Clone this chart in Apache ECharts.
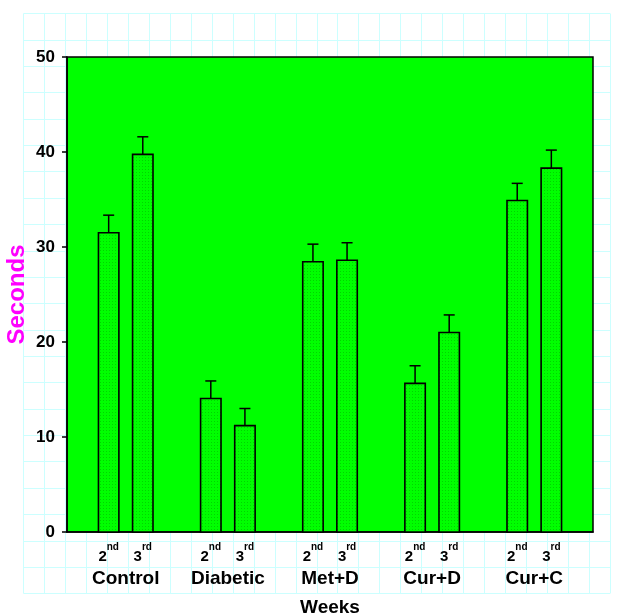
<!DOCTYPE html>
<html>
<head>
<meta charset="utf-8">
<script src="https://cdn.jsdelivr.net/npm/echarts@6/dist/echarts.min.js"></script>
<style>
  html, body { margin: 0; padding: 0; background: #fff; }
  #chart { width: 619px; height: 614px; }
</style>
</head>
<body>
<div id="chart"></div>
<script>
// Groups and weekly means (seconds) with their error bars
const groups = ['Control', 'Diabetic', 'Met+D', 'Cur+D', 'Cur+C'];
const week2 = [31.5, 14.05, 28.45, 15.65, 34.9];
const week2Err = [1.85, 1.85, 1.85, 1.85, 1.8];
const week3 = [39.75, 11.2, 28.6, 21.0, 38.3];
const week3Err = [1.85, 1.8, 1.85, 1.85, 1.9];
const weekNum = ['2', '3'];
const weekSup = ['nd', 'rd'];
const yMin = 0, yMax = 50, yStep = 10;

const FONT = '"Liberation Sans", Arial, sans-serif';
const PAIR_OFFSET = 0.167;   // bar centre offset from group centre (axis units)
const BAR_W = 0.2;           // bar width (axis units)
const CAP_W = 0.108;         // error-bar cap width (axis units)

// dotted fill for the bars
const tile = document.createElement('canvas');
tile.width = 3; tile.height = 3;
const tctx = tile.getContext('2d');
tctx.fillStyle = '#00ff00';
tctx.fillRect(0, 0, 3, 3);
tctx.fillStyle = '#00d400';
tctx.fillRect(1, 1, 1, 1);
const barFill = { image: tile, repeat: 'repeat' };

const barData = [];
groups.forEach((g, i) => {
  barData.push([i - PAIR_OFFSET, week2[i], week2Err[i]]);
  barData.push([i + PAIR_OFFSET, week3[i], week3Err[i]]);
});
const weekPositions = barData.map(d => d[0]);

function renderItem(params, api) {
  const x = api.value(0), v = api.value(1), e = api.value(2);
  const top = api.coord([x, v]);
  const base = api.coord([x, 0]);
  const cap = api.coord([x, v + e]);
  const w = api.size([BAR_W, 0])[0];
  const cw = api.size([CAP_W, 0])[0];
  return {
    type: 'group',
    children: [
      { type: 'line', shape: { x1: top[0], y1: top[1], x2: cap[0], y2: cap[1] },
        style: { stroke: '#000', lineWidth: 1.5 } },
      { type: 'line', shape: { x1: cap[0] - cw / 2, y1: cap[1], x2: cap[0] + cw / 2, y2: cap[1] },
        style: { stroke: '#000', lineWidth: 1.5 } },
      { type: 'rect', shape: { x: top[0] - w / 2, y: top[1], width: w, height: base[1] - top[1] },
        style: { fill: barFill, stroke: '#000', lineWidth: 1.6 } }
    ]
  };
}

const chart = echarts.init(document.getElementById('chart'), null, { renderer: 'canvas' });
chart.setOption({
  animation: false,
  backgroundColor: '#ffffff',
  grid: [
    // graph-paper backdrop
    { left: 23.5, top: 13.5, width: 586.5, height: 580, z: 0, outerBoundsMode: 'none', containLabel: false },
    // plotting area
    { left: 67, top: 57, width: 526, height: 475, z: 3, outerBoundsMode: 'none', containLabel: false,
      show: true, backgroundColor: '#00ff00', borderColor: '#000', borderWidth: 1.5 }
  ],
  xAxis: [
    { gridIndex: 0, type: 'value', min: 0, max: 28, interval: 1, z: 0,
      axisLine: { show: false }, axisTick: { show: false }, axisLabel: { show: false },
      splitLine: { show: true, lineStyle: { color: '#ccffff', width: 1 } } },
    { gridIndex: 1, type: 'value', min: -0.575, max: 4.575, z: 4,
      axisLine: { show: true, onZero: false, lineStyle: { color: '#000', width: 1.5 } },
      axisTick: { show: false },
      splitLine: { show: false },
      axisLabel: {
        show: true, customValues: [0, 1, 2, 3, 4], margin: 37,
        formatter: v => groups[Math.round(v)],
        color: '#000', fontFamily: FONT, fontWeight: 'bold', fontSize: 19
      },
      name: 'Weeks', nameLocation: 'middle', nameGap: 66, nameMoveOverlap: false,
      nameTextStyle: { color: '#000', fontFamily: FONT, fontWeight: 'bold', fontSize: 19 } },
    { gridIndex: 1, type: 'value', min: -0.575, max: 4.575, z: 4, position: 'bottom',
      axisLine: { show: false }, axisTick: { show: false }, splitLine: { show: false },
      axisLabel: {
        show: true, customValues: weekPositions, margin: 10,
        formatter: v => {
          const k = v < Math.round(v) ? 0 : 1;
          return '{b|' + weekNum[k] + '}{s|' + weekSup[k] + '}';
        },
        rich: {
          b: { fontFamily: FONT, fontWeight: 'bold', fontSize: 15, color: '#000', lineHeight: 22, verticalAlign: 'bottom' },
          s: { fontFamily: FONT, fontWeight: 'bold', fontSize: 10, color: '#000', verticalAlign: 'top' }
        }
      } }
  ],
  yAxis: [
    { gridIndex: 0, type: 'value', min: 0, max: 22, interval: 1, z: 0,
      axisLine: { show: false }, axisTick: { show: false }, axisLabel: { show: false },
      splitLine: { show: true, lineStyle: { color: '#ccffff', width: 1 } } },
    { gridIndex: 1, type: 'value', min: yMin, max: yMax, interval: yStep, z: 4,
      axisLine: { show: true, onZero: false, lineStyle: { color: '#000', width: 1.5 } },
      axisTick: { show: true, inside: false, length: 5, lineStyle: { color: '#000', width: 1.5 } },
      splitLine: { show: false },
      axisLabel: { margin: 12, color: '#000', fontFamily: FONT, fontWeight: 'bold', fontSize: 17 },
      name: 'Seconds', nameLocation: 'middle', nameGap: 38, nameRotate: 90, nameMoveOverlap: false,
      nameTextStyle: { color: '#ff00ff', fontFamily: FONT, fontWeight: 'bold', fontSize: 24 } }
  ],
  series: [
    { type: 'custom', xAxisIndex: 1, yAxisIndex: 1, z: 5,
      renderItem: renderItem, encode: { x: 0, y: 1 }, data: barData }
  ]
});
</script>
</body>
</html>
